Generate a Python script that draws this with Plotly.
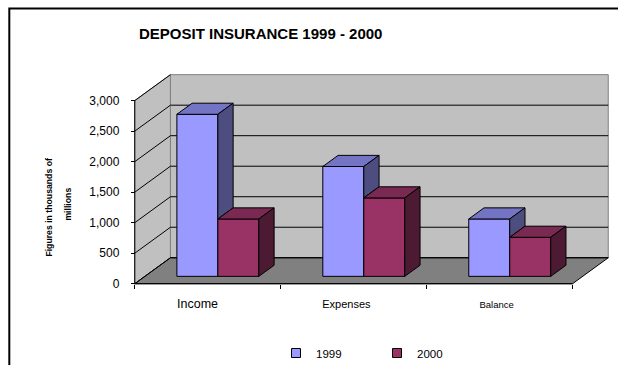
import plotly.graph_objects as go

# ---------------- data ----------------
categories = ["Income", "Expenses", "Balance"]
series_names = ["1999", "2000"]
values_1999 = [2655, 1800, 940]
values_2000 = [940, 1285, 640]
y_ticks = [0, 500, 1000, 1500, 2000, 2500, 3000]
title_text = "DEPOSIT INSURANCE 1999 - 2000"
y_title_lines = ["Figures in thousands of", "millions"]
cat_font_sizes = [12.5, 11, 9.5]

# ---------------- styling / geometry ----------------
FONT = "Liberation Sans, Arial, sans-serif"
C_FRONT = ["#9999FF", "#993366"]
C_TOP = ["#7474C4", "#7A2952"]
C_SIDE = ["#4D4D80", "#4D1A33"]
WALL = "#C0C0C0"
FLOOR = "#808080"

FIG_W, FIG_H = 618, 365
SX = 146.0            # px per category
SY = 183.3 / 3000.0   # px per value unit
X0PX, Y0PX = 135.0, 284.0   # front-left corner of floor in px
DX = 35.7 / SX        # depth offset in category units
DY = 26.0 / SY        # depth offset in value units
F0, F1 = 0.284, 0.712 # depth fractions of bar front/back
BW = 41.0 / SX        # bar width

XL, XR = -0.06, 3 + DX + 0.06
YB, YT = -70.0, 3000 + DY + 60.0
L = X0PX + XL * SX
PW = (XR - XL) * SX
R = FIG_W - L - PW
T = Y0PX - YT * SY
PB = Y0PX - YB * SY
PH = PB - T
B = FIG_H - PB


def pxx(p):
    return (p - L) / PW


def pxy(p):
    return (PB - p) / PH


fig = go.Figure()

# ---- front faces (bars) ----
series_vals = [values_1999, values_2000]
centers = [i + 0.5 for i in range(len(categories))]
base = F0 * DY
xshift = F0 * DX
offsets = [-BW, 0.0]
bdx = (F1 - F0) * DX
bdy = (F1 - F0) * DY

for s, vals in enumerate(series_vals):
    fig.add_trace(go.Bar(
        x=centers, y=vals, base=[base] * len(vals),
        offset=xshift + offsets[s], width=BW,
        marker=dict(color=C_FRONT[s], line=dict(color="black", width=1)),
        showlegend=False, hoverinfo="skip"))

# ---- top and side faces ----
for s, vals in enumerate(series_vals):
    tx, ty, sx_, sy_ = [], [], [], []
    for i, v in enumerate(vals):
        xl = centers[i] + xshift + offsets[s]
        xr = xl + BW
        b = base
        t = base + v
        tx += [xl, xr, xr + bdx, xl + bdx, xl, None]
        ty += [t, t, t + bdy, t + bdy, t, None]
        lo = b
        if s == 0:
            lo = max(b, base + series_vals[1][i])
        if lo < t:
            sx_ += [xr, xr, xr + bdx, xr + bdx, xr, None]
            sy_ += [lo, t, t + bdy, lo + bdy, lo, None]
    fig.add_trace(go.Scatter(x=tx, y=ty, mode="lines", fill="toself",
                             fillcolor=C_TOP[s], line=dict(color="black", width=1),
                             showlegend=False, hoverinfo="skip"))
    fig.add_trace(go.Scatter(x=sx_, y=sy_, mode="lines", fill="toself",
                             fillcolor=C_SIDE[s], line=dict(color="black", width=1),
                             showlegend=False, hoverinfo="skip"))

# ---- legend entries ----
for s, name in enumerate(series_names):
    fig.add_trace(go.Scatter(x=[None], y=[None], mode="markers", name=name,
                             marker=dict(symbol="square", size=9, color=C_FRONT[s],
                                         line=dict(color="black", width=1))))

# ---- walls, floor, gridlines ----
ncat = len(categories)
ymax = y_ticks[-1]
shapes = []
shapes.append(dict(type="path", layer="below",
                   path=f"M0,0 L0,{ymax} L{DX},{ymax + DY} L{DX},{DY} Z",
                   fillcolor=WALL, line=dict(color="#808080", width=1)))
shapes.append(dict(type="rect", layer="below", x0=DX, y0=DY, x1=ncat + DX, y1=ymax + DY,
                   fillcolor=WALL, line=dict(color="#808080", width=1)))
shapes.append(dict(type="path", layer="below",
                   path=f"M0,0 L{ncat},0 L{ncat + DX},{DY} L{DX},{DY} Z",
                   fillcolor=FLOOR, line=dict(color="black", width=1)))
for v in y_ticks:
    shapes.append(dict(type="line", layer="below", x0=0, y0=v, x1=DX, y1=v + DY,
                       line=dict(color="black", width=1)))
    if v < ymax:
        shapes.append(dict(type="line", layer="below", x0=DX, y0=v + DY, x1=ncat + DX, y1=v + DY,
                           line=dict(color="black", width=1)))
shapes.append(dict(type="line", x0=0, y0=0, x1=0, y1=ymax, line=dict(color="black", width=1)))
shapes.append(dict(type="line", x0=0, y0=0, x1=ncat, y1=0, line=dict(color="black", width=1)))
for s in shapes:
    s.setdefault("xref", "x")
    s.setdefault("yref", "y")
# chart border
shapes.append(dict(type="rect", xref="paper", yref="paper",
                   x0=pxx(9.5), y0=pxy(380), x1=pxx(640), y1=pxy(8.5),
                   line=dict(color="black", width=2), fillcolor="rgba(0,0,0,0)"))

ticktext = [f"<span style='font-size:{cat_font_sizes[i]}px'>{c}</span>" for i, c in enumerate(categories)]
label_pos = [c - sh for c, sh in zip(centers, [0.07, 0.05, 0.02])]

fig.update_layout(
    width=FIG_W, height=FIG_H, template="none",
    margin=dict(l=L, r=R, t=T, b=B, pad=0),
    paper_bgcolor="white", plot_bgcolor="rgba(0,0,0,0)",
    barmode="overlay",
    font=dict(family=FONT, color="black", size=11),
    shapes=shapes,
    showlegend=True,
    legend=dict(orientation="h", xref="container", yref="container",
                x=276 / FIG_W, y=1 - 353 / FIG_H, xanchor="left", yanchor="middle",
                font=dict(size=11.5, family=FONT, color="black"),
                bgcolor="rgba(0,0,0,0)", borderwidth=0, itemwidth=30,
                entrywidth=56, entrywidthmode="pixels"),
    xaxis=dict(range=[XL, XR], anchor="free", position=pxy(Y0PX),
               tickvals=label_pos, ticktext=ticktext, ticks="",
               showgrid=False, zeroline=False, showline=False, automargin=False,
               ticklabelstandoff=12, tickfont=dict(size=11, family=FONT, color="black"),
               minor=dict(tickmode="array", tickvals=list(range(ncat + 1)), ticks="outside",
                          ticklen=4, tickcolor="black", tickwidth=1, showgrid=False)),
    yaxis=dict(range=[YB, YT], anchor="free", position=pxx(X0PX),
               tickvals=y_ticks, tickformat=",", ticks="outside", ticklen=4,
               tickcolor="black", tickwidth=1,
               showgrid=False, zeroline=False, showline=False, automargin=False,
               ticklabelstandoff=9, tickfont=dict(size=12, family=FONT, color="black")),
    annotations=[
        dict(text=f"<b>{title_text}</b>", xref="paper", yref="paper",
             x=pxx(260.5), y=pxy(33), xanchor="center", yanchor="middle",
             showarrow=False, font=dict(size=15, family=FONT, color="black")),
        dict(text=f"<b>{y_title_lines[0]}</b>", xref="paper", yref="paper",
             x=pxx(49), y=pxy(207), xanchor="center", yanchor="middle", textangle=-90,
             showarrow=False, font=dict(size=8.7, family=FONT, color="black")),
        dict(text=f"<b>{y_title_lines[1]}</b>", xref="paper", yref="paper",
             x=pxx(68), y=pxy(204), xanchor="center", yanchor="middle", textangle=-90,
             showarrow=False, font=dict(size=8.7, family=FONT, color="black")),
    ],
)

fig.write_html("out.html")
